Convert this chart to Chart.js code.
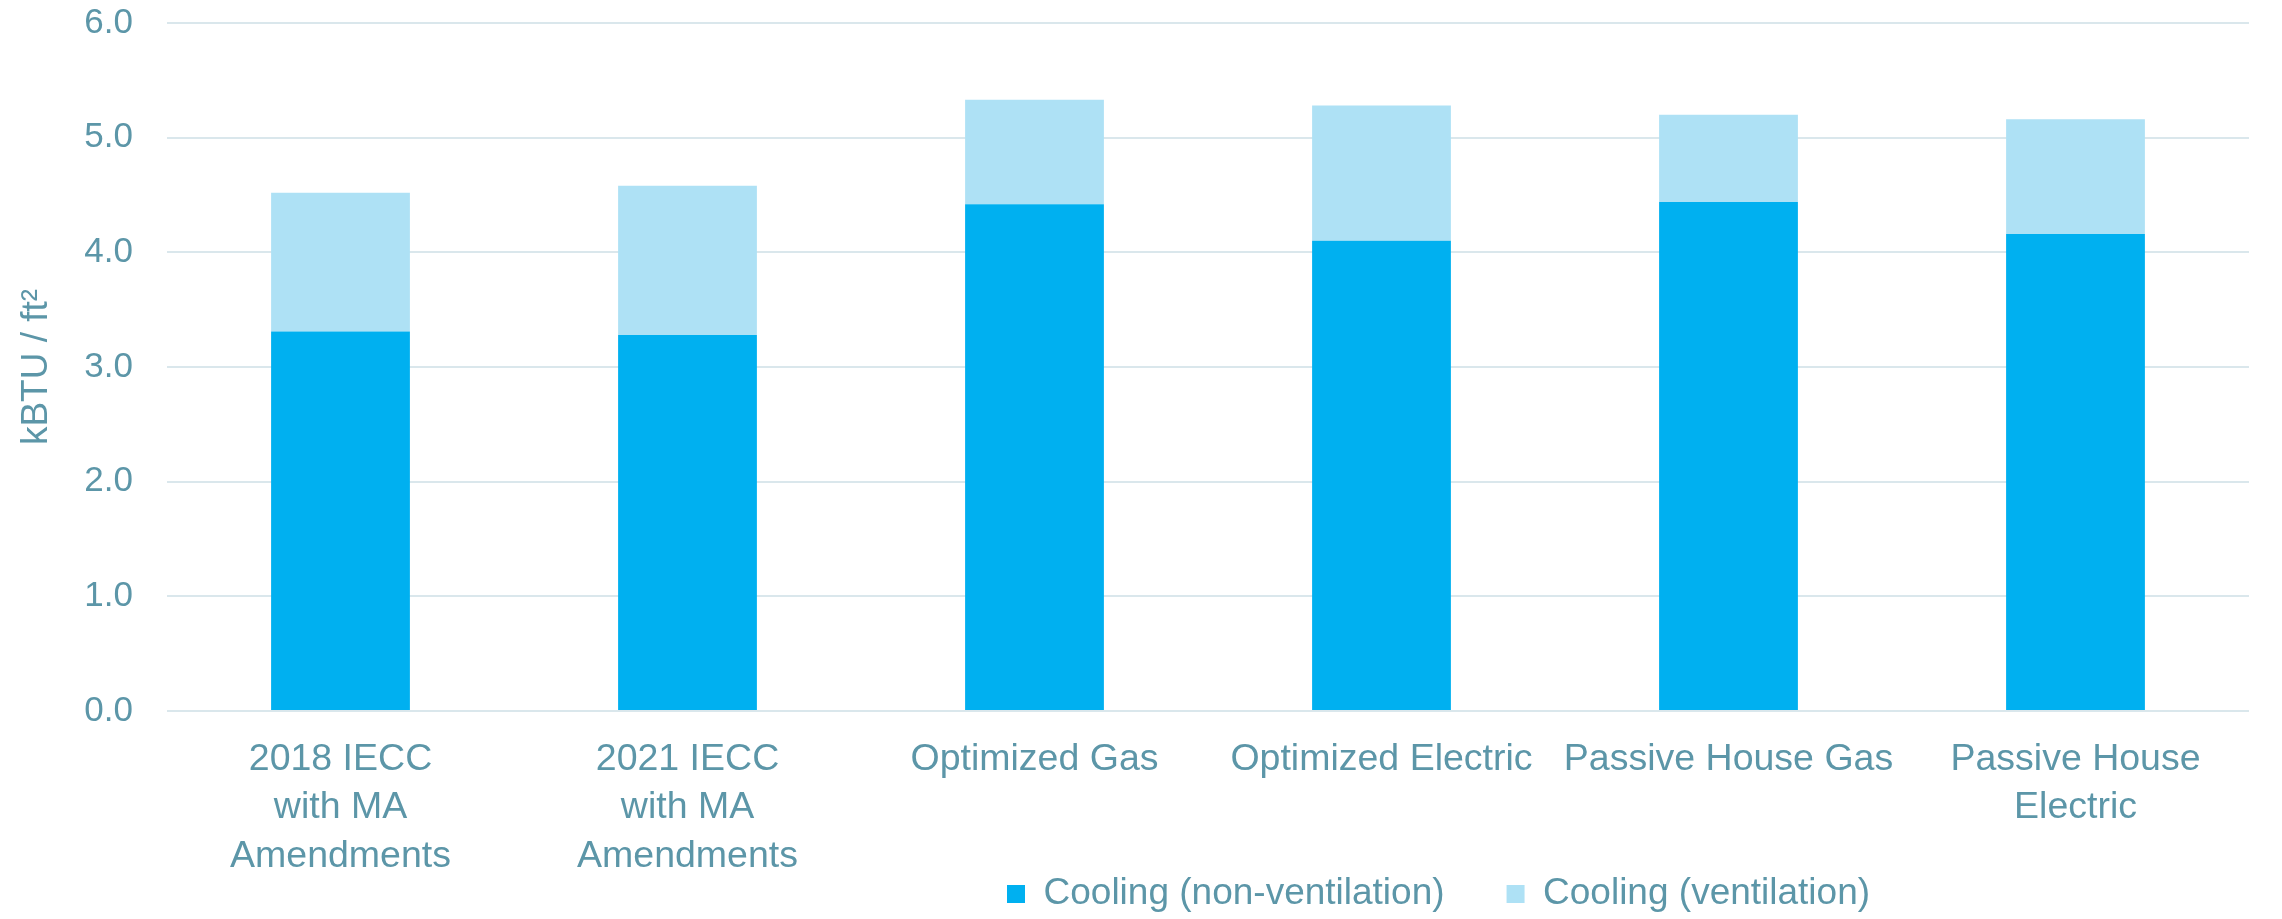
<!DOCTYPE html>
<html lang="en">
<head>
    <meta charset="UTF-8">
    <title>Cooling energy use</title>
    <script src="https://cdn.jsdelivr.net/npm/chart.js"></script>
    <style>
        html, body { margin: 0; padding: 0; background: #fff; }
        #wrap { width: 2282px; height: 919px; }
    </style>
</head>
<body>
    <div id="wrap"><canvas id="coolingChart"></canvas></div>

    <script>
        const categories = [
            ['2018 IECC', 'with MA', 'Amendments'],
            ['2021 IECC', 'with MA', 'Amendments'],
            'Optimized Gas',
            'Optimized Electric',
            'Passive House Gas',
            ['Passive House', 'Electric']
        ];
        const coolingNonVent = [3.31, 3.28, 4.42, 4.10, 4.44, 4.16];
        const coolingVent = [1.21, 1.30, 0.91, 1.18, 0.76, 1.00];
        const yTicks = [0, 1, 2, 3, 4, 5, 6];

        const textColor = '#5C96A8';
        const gridColor = '#DAE7EC';
        const fontFamily = '"Liberation Sans", Arial, sans-serif';

        // put the legend where the original sits: first box at x=1007, row centred at y=894
        const legendShift = {
            id: 'legendShift',
            afterLayout(chart) {
                const lg = chart.legend;
                if (!lg || !lg.lineWidths) return;
                const pad = lg.options.labels.padding;
                const startX = (lg.left + pad + lg.right - lg.lineWidths[0]) / 2;
                const dx = 1007 - startX;
                const dy = (894 - 18.5 - pad) - lg.top;
                lg.left += dx; lg.right += dx;
                lg.top += dy; lg.bottom += dy;
            }
        };

        const ctx = document.getElementById('coolingChart').getContext('2d');
        new Chart(ctx, {
            type: 'bar',
            data: {
                labels: categories,
                datasets: [
                    {
                        label: 'Cooling (non-ventilation)',
                        data: coolingNonVent,
                        backgroundColor: '#00B0F0',
                        barPercentage: 0.4,
                        categoryPercentage: 1.0
                    },
                    {
                        label: 'Cooling (ventilation)',
                        data: coolingVent,
                        backgroundColor: '#AEE1F5',
                        barPercentage: 0.4,
                        categoryPercentage: 1.0
                    }
                ]
            },
            plugins: [legendShift],
            options: {
                responsive: true,
                maintainAspectRatio: false,
                animation: false,
                layout: { padding: { left: 0, right: 33, top: 23, bottom: -76 } },
                plugins: {
                    tooltip: { enabled: false },
                    legend: {
                        position: 'bottom',
                        labels: {
                            color: textColor,
                            font: { family: fontFamily, size: 37 },
                            boxWidth: 18,
                            boxHeight: 18,
                            padding: 62
                        }
                    }
                },
                scales: {
                    x: {
                        stacked: true,
                        afterFit: (scale) => { scale.height = 175; },
                        grid: { display: false },
                        border: { display: false },
                        ticks: {
                            color: textColor,
                            font: { family: fontFamily, size: 37.5, lineHeight: 1.3 },
                            padding: 16,
                            maxRotation: 0,
                            autoSkip: false
                        }
                    },
                    y: {
                        stacked: true,
                        min: 0,
                        max: 6,
                        afterBuildTicks: (scale) => {
                            scale.ticks = yTicks.map(v => ({ value: v }));
                        },
                        afterFit: (scale) => {
                            scale.width = 167;
                            scale.paddingTop = 0;
                        },
                        grid: { color: gridColor, lineWidth: 2, drawTicks: false },
                        border: { display: false },
                        ticks: {
                            color: textColor,
                            font: { family: fontFamily, size: 35 },
                            padding: 34,
                            callback: (v) => Number(v).toFixed(1)
                        },
                        title: {
                            display: true,
                            text: 'kBTU / ft²',
                            color: textColor,
                            font: { family: fontFamily, size: 37 },
                            padding: { top: 15, bottom: 0 }
                        }
                    }
                }
            }
        });
    </script>
</body>
</html>
